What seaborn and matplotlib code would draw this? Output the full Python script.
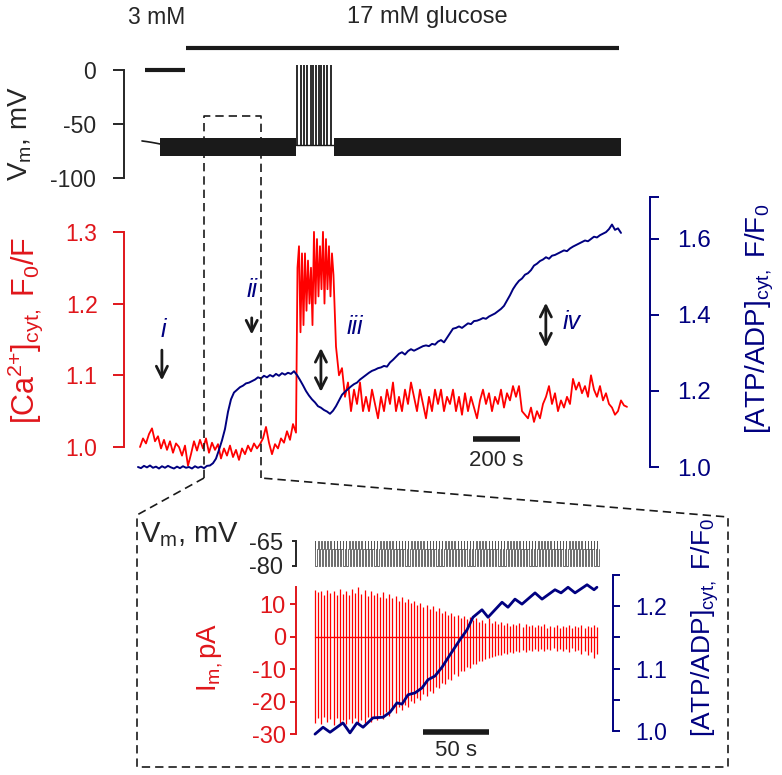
import numpy as np
import matplotlib
matplotlib.use("Agg")
import matplotlib.pyplot as plt
import seaborn as sns

sns.set_theme(style="ticks")
plt.rcParams['font.family'] = ['Liberation Sans', 'DejaVu Sans']
plt.rcParams['mathtext.fontset'] = 'custom'
plt.rcParams['mathtext.rm'] = 'Liberation Sans'
plt.rcParams['mathtext.it'] = 'Liberation Sans:italic'
plt.rcParams['axes.unicode_minus'] = False

RED = '#ff0000'
RED_TXT = '#e0161b'
NAVY = '#000080'
W, H = 782, 775

# ---------------- data (time in s) ----------------
# top Vm record
vm_pre_t = [0, 20, 40, 60, 76]
vm_pre_v = [-65.7, -66.3, -67.0, -67.8, -68.5]
band_start = [76, 810]
band_end = [650, 2021]
band_low, band_high = -80, -63
burst_t = [652.7, 669.6, 683.5, 697.5, 711.8, 722.8, 734.2, 745.6, 756.5, 767.9, 781.9, 796.2]
burst_base, burst_peak = -69.5, 4.5
zero_bar = [13, 181]
glucose_bar = [186, 2013]

# cytosolic Ca2+ (three stretches: before, during, after the burst)
ca_a_t = (-8.4, 649.8)
ca_a = [1.000, 1.012, 1.005, 1.018, 1.026, 1.008, 1.015, 0.998, 1.010, 0.996,
        1.008, 0.992, 1.005, 1.000, 0.988, 1.002, 0.974, 0.990, 1.008, 0.995,
        1.010, 0.998, 1.012, 0.992, 1.006, 0.996, 1.004, 0.984, 0.998, 0.988,
        1.002, 0.986, 0.996, 0.982, 0.998, 0.990, 1.002, 0.994, 1.005, 0.998,
        1.004, 1.012, 1.028, 1.006, 0.990, 1.004, 0.998, 1.012, 1.006, 1.022,
        1.010, 1.032, 1.020]
ca_b_t = (649.8, 814.3)
ca_b = [1.02, 1.25, 1.28, 1.16, 1.27, 1.17, 1.27, 1.19, 1.26, 1.20,
        1.25, 1.17, 1.30, 1.20, 1.29, 1.21, 1.28, 1.22, 1.30, 1.20,
        1.29, 1.22, 1.28, 1.21, 1.27, 1.24, 1.18]
ca_c_t = (818.6, 2046.4)
ca_c = [1.14, 1.10, 1.11, 1.07, 1.09, 1.05, 1.08, 1.06, 1.09, 1.05,
        1.07, 1.05, 1.08, 1.06, 1.04, 1.07, 1.05, 1.08, 1.06, 1.09,
        1.05, 1.07, 1.05, 1.08, 1.06, 1.09, 1.07, 1.05, 1.08, 1.06,
        1.04, 1.07, 1.05, 1.08, 1.06, 1.08, 1.05, 1.07, 1.06, 1.08,
        1.05, 1.07, 1.045, 1.075, 1.05, 1.07, 1.055, 1.04, 1.065, 1.08,
        1.06, 1.075, 1.05, 1.07, 1.06, 1.08, 1.055, 1.075, 1.065, 1.085,
        1.07, 1.085, 1.05, 1.045, 1.04, 1.055, 1.035, 1.05, 1.04, 1.06,
        1.07, 1.085, 1.06, 1.075, 1.05, 1.065, 1.055, 1.07, 1.06, 1.095,
        1.08, 1.09, 1.075, 1.085, 1.07, 1.10, 1.08, 1.07, 1.085, 1.065,
        1.075, 1.06, 1.055, 1.045, 1.05, 1.065, 1.058, 1.056]

# cytosolic ATP/ADP
atp_t = (-16.9, 2021.1)
atp = [1.000, 0.997, 1.003, 0.999, 1.004, 0.998, 1.001, 0.996, 1.002, 0.998,
       1.003, 0.999, 0.996, 1.001, 0.997, 1.002, 0.998, 1.000, 0.996, 1.002,
       0.998, 1.001, 0.997, 1.003, 1.004, 1.010, 1.022, 1.045, 1.070, 1.100,
       1.145, 1.178, 1.196, 1.203, 1.210, 1.214, 1.220, 1.222, 1.226, 1.230,
       1.236, 1.233, 1.240, 1.236, 1.242, 1.238, 1.245, 1.240, 1.247, 1.243,
       1.248, 1.245, 1.252, 1.242, 1.229, 1.215, 1.200, 1.188, 1.178, 1.170,
       1.160, 1.156, 1.150, 1.146, 1.140, 1.148, 1.160, 1.175, 1.190, 1.198,
       1.205, 1.212, 1.218, 1.222, 1.230, 1.236, 1.242, 1.248, 1.253, 1.256,
       1.260, 1.262, 1.266, 1.264, 1.275, 1.282, 1.290, 1.298, 1.302, 1.296,
       1.305, 1.310, 1.306, 1.310, 1.314, 1.318, 1.320, 1.318, 1.324, 1.322,
       1.330, 1.334, 1.328, 1.340, 1.352, 1.364, 1.366, 1.370, 1.366, 1.372,
       1.378, 1.376, 1.384, 1.385, 1.388, 1.392, 1.390, 1.396, 1.400, 1.404,
       1.410, 1.416, 1.424, 1.438, 1.452, 1.468, 1.480, 1.490, 1.496, 1.506,
       1.510, 1.518, 1.530, 1.535, 1.542, 1.546, 1.552, 1.548, 1.556, 1.558,
       1.562, 1.566, 1.570, 1.568, 1.575, 1.580, 1.584, 1.588, 1.592, 1.596,
       1.594, 1.600, 1.606, 1.604, 1.610, 1.614, 1.618, 1.626, 1.638, 1.624,
       1.628, 1.616]

# inset: pulse train, membrane current envelope and ATP/ADP
n_pulses = 92
inset_span = 213.6
im_upper = [14.5, 13.8, 14.2, 12.9, 14.6, 13.5, 14.0, 12.8, 14.8, 13.2,
            14.1, 13.0, 14.9, 13.6, 15.5, 13.1, 14.4, 12.7, 14.2, 13.0,
            13.6, 12.4, 13.8, 11.9, 13.2, 12.0, 12.6, 11.2, 12.3, 10.8,
            11.6, 10.4, 11.0, 9.7, 10.6, 9.2, 9.9, 8.6, 9.4, 8.1,
            8.8, 7.5, 8.0, 6.8, 7.4, 6.3, 6.9, 5.9, 6.5, 5.4,
            6.0, 5.1, 5.7, 4.6, 5.3, 4.4, 5.9, 4.2, 4.9, 4.0,
            4.6, 3.8, 4.4, 3.5, 4.1, 3.6, 4.3, 3.2, 3.9, 3.4,
            3.7, 3.0, 3.6, 3.3, 3.9, 2.9, 3.5, 3.1, 3.8, 2.8,
            3.4, 3.0, 3.6, 2.7, 3.3, 3.1, 3.8, 2.9, 3.5, 3.2, 3.6, 3.0]
im_lower = [-26.5, -25.0, -26.8, -24.6, -26.2, -25.3, -27.0, -24.8, -26.4, -25.5,
            -26.9, -25.2, -26.6, -24.9, -26.8, -25.4, -26.5, -24.7, -26.2, -24.9,
            -25.6, -24.0, -25.2, -23.2, -24.3, -22.5, -23.4, -21.6, -22.5, -20.8,
            -21.5, -19.8, -20.4, -18.7, -19.4, -17.6, -18.3, -16.5, -17.1, -15.4,
            -15.8, -14.1, -14.5, -12.8, -13.2, -11.5, -11.9, -10.4, -10.6, -9.3,
            -9.4, -8.4, -8.3, -7.5, -7.4, -6.8, -6.6, -6.1, -6.0, -5.5,
            -5.6, -4.9, -5.2, -4.6, -4.9, -4.3, -4.7, -4.1, -4.5, -3.9,
            -4.4, -3.8, -4.3, -3.6, -4.2, -3.7, -4.1, -3.5, -4.3, -3.6,
            -4.2, -3.8, -4.6, -3.5, -4.4, -4.0, -5.1, -4.2, -5.6, -4.5, -6.4, -5.2]
iatp_t = [0, 6.1, 11.4, 21.2, 26.5, 31.8, 36.4, 43.9, 51.5, 56.8,
          62.1, 65.9, 70.5, 75.8, 81.1, 85.6, 90.9, 96.2, 102.3, 109.8,
          115.2, 119.7, 126.5, 131.1, 141.7, 146.2, 151.5, 156.8, 166.7, 172.0,
          181.8, 186.4, 191.7, 197.0, 206.1, 211.4, 213.6]
iatp_v = [0.995, 1.006, 0.998, 1.013, 0.997, 1.013, 1.006, 1.021, 1.022, 1.030,
          1.045, 1.043, 1.058, 1.061, 1.069, 1.082, 1.088, 1.102, 1.122, 1.146,
          1.162, 1.182, 1.194, 1.182, 1.206, 1.198, 1.211, 1.203, 1.221, 1.211,
          1.226, 1.221, 1.230, 1.221, 1.234, 1.226, 1.230]

labels_roman = ['i', 'ii', 'iii', 'iv']
label_pos = [(89, 1.163), (464, 1.219), (899, 1.167), (1814, 1.174)]


def px_rect(x0, y0, x1, y1):
    return [x0 / W, 1 - y1 / H, (x1 - x0) / W, (y1 - y0) / H]


def bare(ax, keep):
    for s in ['top', 'right', 'bottom', 'left']:
        ax.spines[s].set_visible(s == keep)
    ax.set_xticks([])
    ax.patch.set_visible(False)


fig = plt.figure(figsize=(W / 100, H / 100), dpi=100)

# ---------------- top: membrane potential ----------------
ax_vm = fig.add_axes(px_rect(124, 40, 660, 185))
ax_vm.set_xlim(-75.9, 2185.7)
ax_vm.set_ylim(-106.5, 27.8)
bare(ax_vm, 'left')
ax_vm.spines['left'].set_bounds(-100, 0)
ax_vm.spines['left'].set_linewidth(1.4)
ax_vm.set_yticks([0, -50, -100])
ax_vm.tick_params(axis='y', length=8, width=1.4, pad=12, labelsize=16.5)

sns.lineplot(x=vm_pre_t, y=vm_pre_v, ax=ax_vm, color='k', lw=1.2, estimator=None, sort=False)
for a, b in zip(band_start, band_end):
    ax_vm.fill_between([a, b], band_low, band_high, color='k', lw=0)
ax_vm.plot([band_end[0], band_start[1]], [burst_base, burst_base], color='k', lw=1)
ax_vm.vlines(burst_t, burst_base, burst_peak, color='k', lw=1.3)
ax_vm.plot(zero_bar, [0, 0], color='k', lw=3, solid_capstyle='butt')
ax_vm.plot(glucose_bar, [20.4, 20.4], color='k', lw=3, solid_capstyle='butt', clip_on=False)
ax_vm.text(63, 49, '3 mM', ha='center', va='center', fontsize=16.5)
ax_vm.text(1202, 49, '17 mM glucose', ha='center', va='center', fontsize=17)
fig.text(20 / W, 1 - 134 / H, r'V$_{\rm m}$, mV', rotation=90, ha='center', va='center', fontsize=20)

# ---------------- middle: Ca2+ and ATP/ADP ----------------
ax_ca = fig.add_axes(px_rect(124, 190, 650, 480))
ax_ca.set_xlim(-75.9, 2143.5)
ax_ca.set_ylim(0.954, 1.3584)
bare(ax_ca, 'left')
ax_ca.spines['left'].set_bounds(1.0, 1.3)
ax_ca.spines['left'].set_color(RED_TXT)
ax_ca.spines['left'].set_linewidth(1.4)
ax_ca.set_yticks([1.0, 1.1, 1.2, 1.3])
ax_ca.set_yticklabels(['1.0', '1.1', '1.2', '1.3'])
ax_ca.tick_params(axis='y', colors=RED_TXT, length=8, width=1.4, pad=11, labelsize=16.5)

ca_t = np.concatenate([np.linspace(*ca_a_t, len(ca_a)), np.linspace(*ca_b_t, len(ca_b)),
                       np.linspace(*ca_c_t, len(ca_c))])
ca_v = np.concatenate([ca_a, ca_b, ca_c])
sns.lineplot(x=ca_t, y=ca_v, ax=ax_ca, color=RED, lw=1.3, estimator=None, sort=False)

ax_atp = ax_ca.twinx()
ax_atp.set_ylim(0.9658, 1.7289)
bare(ax_atp, 'right')
ax_atp.spines['right'].set_bounds(1.0, 1.71)
ax_atp.spines['right'].set_color(NAVY)
ax_atp.spines['right'].set_linewidth(1.4)
ax_atp.set_yticks([1.0, 1.2, 1.4, 1.6, 1.71])
ax_atp.set_yticklabels(['1.0', '1.2', '1.4', '1.6', ''])
ax_atp.tick_params(axis='y', colors=NAVY, length=6.5, width=1.4, pad=13, labelsize=17.5)
sns.lineplot(x=np.linspace(*atp_t, len(atp)), y=atp, ax=ax_atp, color=NAVY, lw=1.4,
             estimator=None, sort=False)

for lab, (tx, ty) in zip(labels_roman, label_pos):
    ax_ca.text(tx, ty, lab, color=NAVY, fontsize=18, style='italic', ha='center', va='center')
arrow_kw = dict(lw=2, color='k', mutation_scale=20)
ax_ca.annotate('', xy=(84, 1.089), xytext=(84, 1.139), arrowprops=dict(arrowstyle='->', **arrow_kw))
ax_ca.annotate('', xy=(463, 1.153), xytext=(463, 1.184), arrowprops=dict(arrowstyle='->', **arrow_kw))
ax_ca.annotate('', xy=(755, 1.073), xytext=(755, 1.142), arrowprops=dict(arrowstyle='<->', **arrow_kw))
ax_ca.annotate('', xy=(1704, 1.135), xytext=(1704, 1.205), arrowprops=dict(arrowstyle='<->', **arrow_kw))
ax_ca.plot([1395, 1595], [1.011, 1.011], color='k', lw=4, solid_capstyle='butt')
ax_ca.text(1495, 0.981, '200 s', ha='center', va='center', fontsize=16)
fig.text(25 / W, 1 - 330 / H, r'[Ca$^{2{+}}$]$_{\rm cyt,}$ F$_0$/F', rotation=90,
         ha='center', va='center', fontsize=22, color=RED_TXT)
fig.text(760 / W, 1 - 319 / H, r'[ATP/ADP]$_{\rm cyt,}$ F/F$_0$', rotation=90,
         ha='center', va='center', fontsize=20, color=NAVY)

# ---------------- inset ----------------
pulse_t = np.linspace(0, inset_span, n_pulses)

ax_ivm = fig.add_axes(px_rect(296, 530, 613, 570))
ax_ivm.set_xlim(-14.39, 225.76)
ax_ivm.set_ylim(-82.4, -58.4)
bare(ax_ivm, 'left')
ax_ivm.spines['left'].set_bounds(-80, -65)
ax_ivm.spines['left'].set_linewidth(1.4)
ax_ivm.set_yticks([-65, -80])
ax_ivm.tick_params(axis='y', length=3, width=1.4, pad=6, labelsize=17)
step_t, step_v = [], []
for tp in pulse_t:
    step_t += [tp, tp, tp + 0.35, tp + 0.35, tp + 1.3, tp + 1.3]
    step_v += [-70, -65, -65, -80, -80, -70]
sns.lineplot(x=step_t, y=step_v, ax=ax_ivm, color='#555555', lw=0.6, estimator=None, sort=False)
fig.text(140 / W, 1 - 535 / H, r'V$_{\rm m}$, mV', ha='left', va='center', fontsize=21)

ax_im = fig.add_axes(px_rect(296, 570, 613, 760))
ax_im.set_xlim(-14.39, 225.76)
ax_im.set_ylim(-37.85, 20.6)
bare(ax_im, 'left')
ax_im.spines['left'].set_bounds(-30, 15.5)
ax_im.spines['left'].set_color(RED_TXT)
ax_im.spines['left'].set_linewidth(1.4)
ax_im.set_yticks([10, 0, -10, -20, -30])
ax_im.tick_params(axis='y', colors=RED_TXT, length=4.3, width=1.4, pad=3, labelsize=17)
ax_im.plot([0, inset_span], [0, 0], color=RED, lw=1)
ax_im.vlines(pulse_t, im_lower, im_upper, color=RED, lw=0.9)
ax_im.plot([81.8, 131.8], [-29.2, -29.2], color='k', lw=4, solid_capstyle='butt')
ax_im.text(106.8, -34.8, '50 s', ha='center', va='center', fontsize=16)
fig.text(210 / W, 1 - 657 / H, r'I$_{\rm m,}$pA', rotation=90, ha='center', va='center',
         fontsize=20, color=RED_TXT)

ax_iatp = ax_im.twinx()
ax_iatp.set_ylim(0.9536, 1.2576)
bare(ax_iatp, 'right')
ax_iatp.spines['right'].set_bounds(1.0, 1.25)
ax_iatp.spines['right'].set_color(NAVY)
ax_iatp.spines['right'].set_linewidth(1.4)
ax_iatp.set_yticks([1.0, 1.05, 1.1, 1.15, 1.2, 1.25])
ax_iatp.set_yticklabels(['1.0', '', '1.1', '', '1.2', ''])
ax_iatp.tick_params(axis='y', colors=NAVY, length=5, width=1.4, pad=11, labelsize=16.5)
sns.lineplot(x=iatp_t, y=iatp_v, ax=ax_iatp, color=NAVY, lw=2, estimator=None, sort=False)
fig.text(705 / W, 1 - 628 / H, r'[ATP/ADP]$_{\rm cyt,}$ F/F$_0$', rotation=90,
         ha='center', va='center', fontsize=19, color=NAVY)

# ---------------- dashed zoom frame ----------------
ax_ov = fig.add_axes([0, 0, 1, 1])
ax_ov.set_xlim(0, W)
ax_ov.set_ylim(H, 0)
ax_ov.axis('off')
dash = dict(color='k', lw=1.2, ls=(0, (5, 3)))
ax_ov.plot([204, 204, 261, 261], [478, 116, 116, 478], **dash)
ax_ov.plot([204, 137, 137, 728, 728, 261], [478, 515, 767, 767, 517, 478], **dash)

fig.savefig('out.png', dpi=100)
